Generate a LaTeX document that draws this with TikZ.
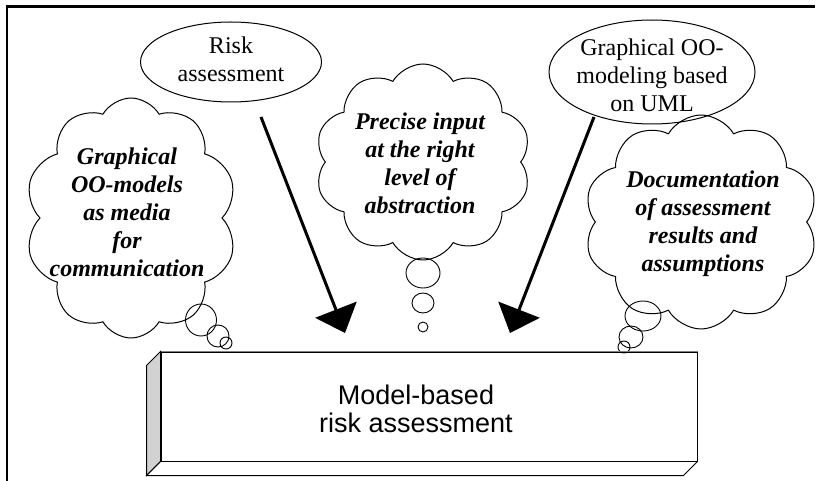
\documentclass[tikz,border=0pt]{standalone}
\usepackage{fontspec}
\setmainfont{Liberation Serif}
\setsansfont{Liberation Sans}
\usetikzlibrary{shapes.symbols,shapes.geometric,arrows.meta,calc}
\begin{document}
\begin{tikzpicture}[x=1pt,y=1pt,
  thought/.style={cloud, draw, line width=1pt, cloud puffs=10, cloud puff arc=120, inner sep=0pt},
  thoughttext/.style={align=center, font=\fontsize{24}{28}\selectfont\bfseries\itshape},
  oval/.style={ellipse, draw, line width=1pt, inner sep=0pt},
  ovaltext/.style={align=center, font=\fontsize{24}{28}\selectfont},
  bubble/.style={ellipse, draw, line width=0.9pt, inner sep=0pt},
  bigarrow/.style={line width=3pt, -{Triangle[length=25pt,width=44pt]}},
  modelbox/.style={draw, line width=1pt, inner sep=0pt},
  modeltext/.style={align=center, font=\fontsize{27}{28}\selectfont\sffamily},
]
\useasboundingbox (0,0) rectangle (820,-481);
\draw[line width=2.3pt] (7,-481) -- (7,-6.5) -- (815,-6.5);

% ellipses
\node[oval, minimum width=181pt, minimum height=80pt] (risk) at (231,-62) {};
\node[ovaltext] (risktext) at (231,-59) {Risk\\assessment};
\node[oval, minimum width=206pt, minimum height=104pt] (uml) at (652,-72) {};
\node[ovaltext] (umltext) at (652,-75) {Graphical OO-\\modeling based\\on UML};

% clouds
\node[thought, minimum width=212pt, minimum height=240pt] (cloudL) at (131,-218) {};
\node[thoughttext] (textL) at (127,-212) {Graphical\\OO-models\\as media\\for\\communication};
\node[thought, minimum width=216pt, minimum height=196pt] (cloudM) at (423,-162) {};
\node[thoughttext] (textM) at (420,-163) {Precise input\\at the right\\level of\\abstraction};
\node[thought, minimum width=234pt, minimum height=214pt] (cloudR) at (701,-222) {};
\node[thoughttext] (textR) at (703,-224) {Documentation\\of assessment\\results and\\assumptions};

% bubbles
\node[bubble, minimum width=34pt, minimum height=30pt] (bM1) at (423,-273) {};
\node[bubble, minimum width=22pt, minimum height=20pt] (bM2) at (423,-303) {};
\node[bubble, minimum width=10pt, minimum height=10pt] (bM3) at (423,-327) {};
\node[bubble, minimum width=31pt, minimum height=32pt] (bL1) at (201,-320) {};
\node[bubble, minimum width=22pt, minimum height=22pt] (bL2) at (218,-336) {};
\node[bubble, minimum width=12pt, minimum height=12pt] (bL3) at (226,-343) {};
\node[bubble, minimum width=36pt, minimum height=30pt] (bR1) at (643,-316) {};
\node[bubble, minimum width=24pt, minimum height=22pt] (bR2) at (631,-337) {};
\node[bubble, minimum width=12pt, minimum height=12pt] (bR3) at (624,-347) {};

% arrows
\coordinate (aL1) at (261,-117);
\coordinate (aL2) at (345,-333);
\coordinate (aR1) at (594,-117);
\coordinate (aR2) at (510,-333);
\draw[bigarrow] (aL1) -- (aL2);
\draw[bigarrow] (aR1) -- (aR2);

% model box
\node[modelbox, minimum width=536pt, minimum height=109pt] (model) at (429,-406.5) {};
\draw[gray, line width=1pt] (model.north west) -- (model.north east);
\filldraw[fill=gray!35, line width=1pt] (model.north west) -- ++(-14,-14) -- ($(model.south west)+(-14,-14)$) -- (model.south west) -- cycle;
\draw[line width=1pt] (model.south west) -- ++(-14,-14) -- ($(model.south east)+(-14,-14)$) -- (model.south east);
\node[modeltext] (modeltxt) at (416,-409) {Model-based\\risk assessment};
\end{tikzpicture}
\end{document}
